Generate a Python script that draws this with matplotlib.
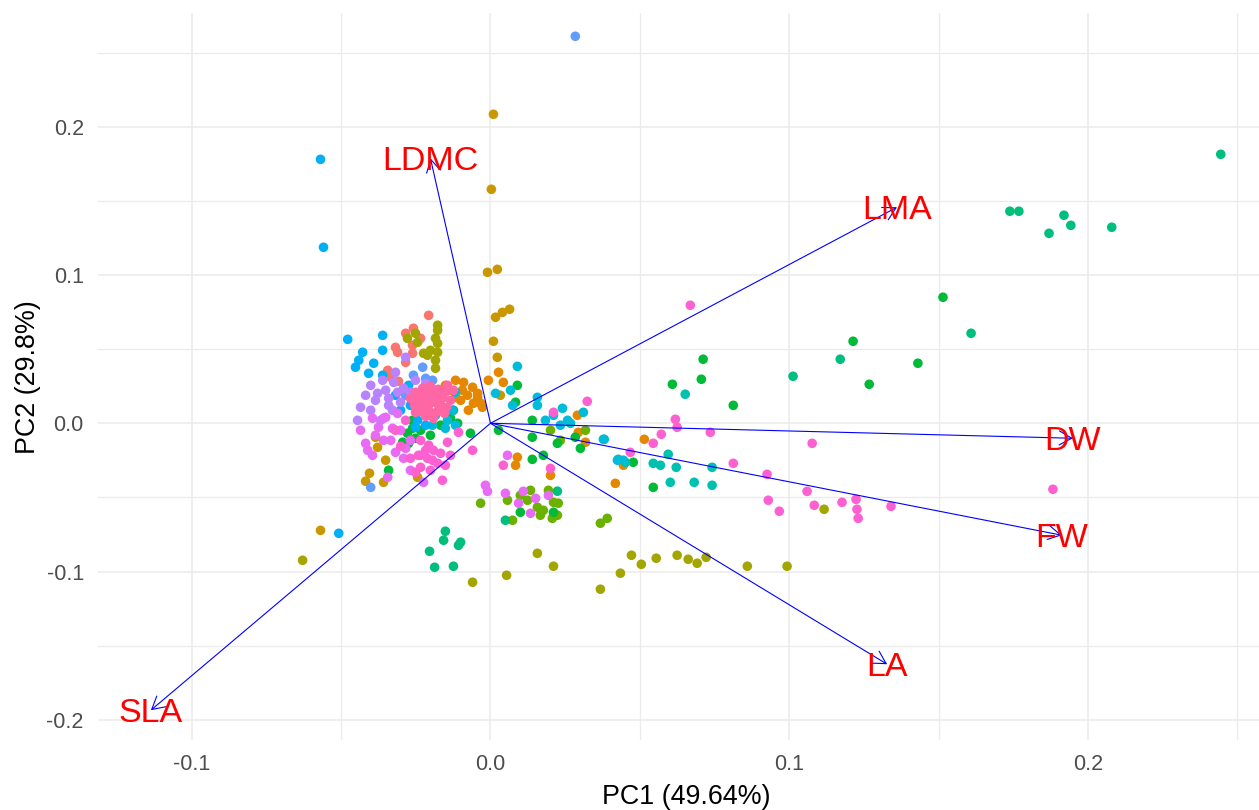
import numpy as np
import matplotlib.pyplot as plt

plt.rcParams["font.family"] = ["Liberation Sans", "DejaVu Sans"]
plt.rcParams["axes.unicode_minus"] = False

# ----------------------------
# PCA scores, one pair of lists per group (PC1, PC2)
# ----------------------------
g01_pc1 = [-0.0207, -0.0258, -0.0318, -0.0311, -0.0284, -0.0261, -0.0261, -0.0344, -0.0334, -0.0308, -0.0234, -0.0284]
g01_pc2 = [0.0728, 0.0641, 0.0512, 0.0479, 0.0411, 0.0526, 0.0472, 0.0357, 0.0310, 0.0283, 0.0573, 0.0607]

g02_pc1 = [-0.0117, -0.0090, -0.0060, -0.0094, -0.0077, -0.0043, -0.0033, -0.0117, -0.0134, -0.0100, -0.0057, -0.0027, -0.0074,
           0.0027, 0.0043, -0.0043, 0.0291, 0.0294, 0.0318, 0.0090, 0.0084, 0.0201, 0.0418, 0.0515, 0.0445, -0.0151, -0.0007]
g02_pc2 = [0.0290, 0.0276, 0.0243, 0.0223, 0.0189, 0.0175, 0.0135, 0.0175, 0.0223, 0.0155, 0.0135, 0.0108, 0.0088,
           0.0344, 0.0276, 0.0202, 0.0054, -0.0061, -0.0128, -0.0229, -0.0283, -0.0351, -0.0405, -0.0108, -0.0283, 0.0256, 0.0290]

g03_pc1 = [0.0010, 0.0003, -0.0010, 0.0023, 0.0017, 0.0040, 0.0064, 0.0010, 0.0023, -0.0385, -0.0378, -0.0405, -0.0418,
           -0.0358, -0.0244, -0.0569, -0.0351, 0.0033]
g03_pc2 = [0.2084, 0.1578, 0.1018, 0.1038, 0.0715, 0.0748, 0.0769, 0.0553, 0.0445, -0.0094, -0.0162, -0.0337, -0.0391,
           -0.0398, -0.0364, -0.0722, -0.0249, 0.0189]

g04_pc1 = [-0.0177, -0.0177, -0.0184, -0.0177, -0.0177, -0.0184, -0.0201, -0.0224, -0.0244, -0.0251, -0.0278, -0.0184, -0.0211,
           0.0157, 0.0054, -0.0060, 0.0211, 0.0368, 0.0435, 0.0472, 0.0505, 0.0555, 0.0625, 0.0662, 0.0692, 0.0722, 0.0860,
           0.0993, -0.0629, 0.1117]
g04_pc2 = [0.0661, 0.0627, 0.0573, 0.0539, 0.0479, 0.0425, 0.0492, 0.0472, 0.0546, 0.0607, 0.0573, 0.0371, 0.0459,
           -0.0877, -0.1025, -0.1072, -0.0964, -0.1119, -0.1011, -0.0890, -0.0951, -0.0910, -0.0890, -0.0917, -0.0944, -0.0904,
           -0.0964, -0.0964, -0.0924, -0.0580]

g05_pc1 = [-0.0033, 0.0057, 0.0124, 0.0157, 0.0177, 0.0211, 0.0227, 0.0224, 0.0167, 0.0207, 0.0074, 0.0368, 0.0391,
           0.0134, 0.0194, 0.0100, 0.0234, 0.0318, 0.0201]
g05_pc2 = [-0.0539, -0.0519, -0.0519, -0.0566, -0.0587, -0.0533, -0.0539, -0.0620, -0.0620, -0.0641, -0.0654, -0.0674, -0.0641,
           -0.0452, -0.0452, -0.0486, -0.0115, -0.0047, -0.0047]

g06_pc1 = [0.0712, 0.0609, 0.0706, 0.0813, 0.1214, 0.1431, 0.1268, 0.1515, 0.0478, 0.0545, 0.0090, 0.0084, 0.0140, 0.0140,
           0.0301, 0.0284, 0.0224, 0.0140, 0.0177, 0.0027, 0.0211, 0.0100, -0.0278, -0.0294, -0.0261, -0.0274, -0.0110,
           -0.0067, -0.0341, -0.0261, -0.0134, -0.0124, -0.0234, -0.0201, -0.0167, -0.0251]
g06_pc2 = [0.0432, 0.0263, 0.0297, 0.0121, 0.0553, 0.0405, 0.0263, 0.0850, -0.0263, -0.0432, 0.0256, 0.0142, 0.0020, -0.0094,
           -0.0169, -0.0094, -0.0135, -0.0243, -0.0216, -0.0047, -0.0600, -0.0600, -0.0067, -0.0128, -0.0034, -0.0135, 0.0,
           -0.0067, -0.0317, 0.0020, 0.0034, 0.0088, -0.0047, -0.0081, -0.0013, -0.0101]

g07_pc1 = [0.2445, 0.1739, 0.1769, 0.1920, 0.1943, 0.1870, 0.2080, 0.1609, 0.1013, 0.1171, -0.0151, -0.0157, -0.0100,
           -0.0107, -0.0204, -0.0187, -0.0124, 0.0050, 0.0224]
g07_pc2 = [0.1814, 0.1430, 0.1430, 0.1403, 0.1335, 0.1281, 0.1322, 0.0607, 0.0317, 0.0432, -0.0728, -0.0789, -0.0802,
           -0.0823, -0.0863, -0.0971, -0.0964, -0.0654, -0.0458]

g08_pc1 = [0.0428, 0.0452, 0.0545, 0.0569, 0.0595, 0.0622, 0.0602, 0.0682, 0.0742, 0.0742, 0.0652, 0.0381]
g08_pc2 = [-0.0243, -0.0263, -0.0270, -0.0283, -0.0209, -0.0297, -0.0398, -0.0398, -0.0418, -0.0297, 0.0196, -0.0108]

g09_pc1 = [0.0090, 0.0017, 0.0067, 0.0074, 0.0157, 0.0157, 0.0211, 0.0241, 0.0258, 0.0268, 0.0234, 0.0311, 0.0378, 0.0425,
           0.0445, 0.0184, -0.0167, -0.0127, -0.0144, -0.0117, -0.0184, -0.0217, -0.0151, -0.0117, -0.0194]
g09_pc2 = [0.0384, 0.0202, 0.0223, 0.0121, 0.0175, 0.0121, 0.0054, 0.0101, 0.0020, 0.0, -0.0013, 0.0074, -0.0108, -0.0249,
           -0.0249, 0.0020, 0.0121, 0.0088, 0.0020, 0.0209, 0.0054, 0.0088, -0.0034, -0.0013, -0.0013]

g10_pc1 = [-0.0569, -0.0559, -0.0508, -0.0478, -0.0361, -0.0361, -0.0428, -0.0441, -0.0452, -0.0391, -0.0408, -0.0361,
           -0.0274, -0.0244, -0.0251, -0.0301, -0.0201, -0.0217, -0.0318, -0.0268]
g10_pc2 = [0.1780, 0.1187, -0.0742, 0.0566, 0.0593, 0.0492, 0.0479, 0.0425, 0.0378, 0.0405, 0.0337, 0.0324, 0.0256,
           0.0020, -0.0027, 0.0088, 0.0155, -0.0013, 0.0189, 0.0121]

g11_pc1 = [0.0284, -0.0227, -0.0258, -0.0194, -0.0217, -0.0184, -0.0401, -0.0284]
g11_pc2 = [0.2610, 0.0378, 0.0324, 0.0290, 0.0303, 0.0223, -0.0432, 0.0189]

g12_pc1 = [-0.0361, -0.0351, -0.0324, -0.0311, -0.0378, -0.0435, -0.0284, -0.0385, -0.0341, -0.0301, -0.0401, -0.0328,
           -0.0368, -0.0268, -0.0251, -0.0217, -0.0401, -0.0318, -0.0291, -0.0418, -0.0341, -0.0445]
g12_pc2 = [0.0290, 0.0223, 0.0276, 0.0209, 0.0202, 0.0108, 0.0445, 0.0155, 0.0169, 0.0142, 0.0088, 0.0088, 0.0020,
           0.0209, 0.0290, 0.0270, 0.0256, 0.0344, 0.0236, 0.0189, 0.0121, 0.0020]

g13_pc1 = [-0.0358, -0.0375, -0.0418, -0.0411, -0.0311, -0.0328, -0.0284, -0.0351, -0.0301, -0.0291, -0.0344, -0.0224,
           -0.0017, -0.0010, 0.0050, 0.0094, 0.0110, 0.0151, 0.0134, 0.0194, 0.0057, -0.0385, -0.0334, -0.0268,
           -0.0395, -0.0358, -0.0318, -0.0395, -0.0268, -0.0234, -0.0435]
g13_pc2 = [0.0034, -0.0027, -0.0135, -0.0182, 0.0067, -0.0034, -0.0169, 0.0040, -0.0047, -0.0236, -0.0364, -0.0398,
           -0.0418, -0.0459, -0.0472, -0.0539, -0.0459, -0.0506, -0.0607, -0.0486, -0.0216, -0.0081, -0.0115, -0.0317,
           0.0034, -0.0115, -0.0196, -0.0216, -0.0115, -0.0216, -0.0047]

g14_pc1 = [-0.0234, -0.0207, -0.0191, -0.0167, -0.0241, -0.0211, -0.0268, -0.0177, -0.0234, -0.0144,
           -0.0107, -0.0060, -0.0161, 0.0043, 0.0201, 0.0619, 0.0625, 0.0736, 0.0572, 0.0545,
           0.0468, 0.0813, 0.0926, 0.1077, 0.1060, 0.0930, 0.0967, 0.1084, 0.1177, 0.1224,
           0.1227, 0.1231, 0.1341, 0.1883, 0.0324, 0.0211, -0.0301, -0.0318, -0.0284, 0.0669,
           -0.0217, -0.0194, -0.0151, -0.0251, -0.0134, -0.0201]
g14_pc2 = [-0.0115, -0.0148, -0.0182, -0.0202, -0.0216, -0.0236, -0.0236, -0.0270, -0.0297, -0.0128,
           -0.0061, -0.0182, -0.0384, -0.0283, -0.0304, 0.0027, -0.0027, -0.0061, -0.0074, -0.0135,
           -0.0196, -0.0270, -0.0344, -0.0135, -0.0459, -0.0519, -0.0593, -0.0553, -0.0533, -0.0513,
           -0.0580, -0.0641, -0.0560, -0.0445, 0.0148, 0.0074, -0.0155, -0.0047, 0.0020, 0.0796,
           -0.0182, -0.0249, -0.0283, -0.0330, -0.0216, -0.0317]

g15_pc1 = [-0.0251, -0.0227, -0.0201, -0.0174, -0.0151, -0.0241, -0.0214, -0.0187, -0.0161, -0.0134, -0.0254, -0.0227,
           -0.0201, -0.0174, -0.0147, -0.0234, -0.0207, -0.0181, -0.0154, -0.0217, -0.0191, -0.0167, -0.0124, -0.0268, -0.0144,
           -0.0234, -0.0184, -0.0207, -0.0161, -0.0251]
g15_pc2 = [0.0209, 0.0236, 0.0249, 0.0229, 0.0209, 0.0169, 0.0182, 0.0189, 0.0169, 0.0155, 0.0121, 0.0128, 0.0135,
           0.0121, 0.0108, 0.0081, 0.0088, 0.0074, 0.0067, 0.0047, 0.0034, 0.0196, 0.0223, 0.0169, 0.0256,
           0.0202, 0.0155, 0.0209, 0.0101, 0.0074]

# ggplot default hue palette for 15 groups
colors = ["#F8766D", "#E58700", "#C99800", "#A3A500", "#6BB100", "#00BA38", "#00BF7D", "#00C0AF",
          "#00BCD8", "#00B0F6", "#619CFF", "#B983FF", "#E76BF3", "#FD61D1", "#FF67A4"]

groups = [(g01_pc1, g01_pc2), (g02_pc1, g02_pc2), (g03_pc1, g03_pc2), (g04_pc1, g04_pc2), (g05_pc1, g05_pc2),
          (g06_pc1, g06_pc2), (g07_pc1, g07_pc2), (g08_pc1, g08_pc2), (g09_pc1, g09_pc2), (g10_pc1, g10_pc2),
          (g11_pc1, g11_pc2), (g12_pc1, g12_pc2), (g13_pc1, g13_pc2), (g14_pc1, g14_pc2), (g15_pc1, g15_pc2)]

# ----------------------------
# Loadings (arrow tips)
# ----------------------------
var_names = ["LDMC", "LMA", "DW", "FW", "LA", "SLA"]
load_pc1 = [-0.0201, 0.1361, 0.1950, 0.1913, 0.1328, -0.1137]
load_pc2 = [0.1787, 0.1457, -0.0101, -0.0755, -0.1625, -0.1935]

# ----------------------------
# Plot
# ----------------------------
fig = plt.figure(figsize=(12.59, 8.10), dpi=100)
ax = fig.add_axes([0.0776, 0.0864, 0.9224, 0.8972])

for (px, py), col in zip(groups, colors):
    ax.scatter(px, py, s=48, color=col, edgecolors="none", zorder=2)

for name, lx, ly in zip(var_names, load_pc1, load_pc2):
    ax.annotate("", xy=(lx, ly), xytext=(0, 0),
                arrowprops=dict(arrowstyle="->,head_length=0.5,head_width=0.28", color="blue",
                                lw=0.8, shrinkA=0, shrinkB=0, mutation_scale=18),
                zorder=3)
    ax.text(lx, ly, name, color="red", fontsize=24.5, ha="center", va="center_baseline", zorder=4)

ax.set_xlim(-0.1315, 0.2573)
ax.set_ylim(-0.2136, 0.2765)

ax.set_xticks([-0.1, 0.0, 0.1, 0.2])
ax.set_xticklabels(["-0.1", "0.0", "0.1", "0.2"])
ax.set_yticks([-0.2, -0.1, 0.0, 0.1, 0.2])
ax.set_yticklabels(["-0.2", "-0.1", "0.0", "0.1", "0.2"])
ax.set_xticks(np.arange(-0.1, 0.26, 0.05), minor=True)
ax.set_yticks(np.arange(-0.2, 0.26, 0.05), minor=True)

ax.grid(which="major", color="#EBEBEB", linewidth=1.1, zorder=0)
ax.grid(which="minor", color="#EBEBEB", linewidth=0.9, zorder=0)
ax.set_axisbelow(True)
for s in ax.spines.values():
    s.set_visible(False)
ax.tick_params(which="both", length=0, labelsize=15.5, labelcolor="#4D4D4D", pad=10)

ax.set_xlabel("PC1 (49.64%)", fontsize=19.4, color="black")
ax.set_ylabel("PC2 (29.8%)", fontsize=19.4, color="black")
ax.xaxis.set_label_coords(0.5066, -0.06)

fig.savefig("out.png", dpi=100, facecolor="white")
